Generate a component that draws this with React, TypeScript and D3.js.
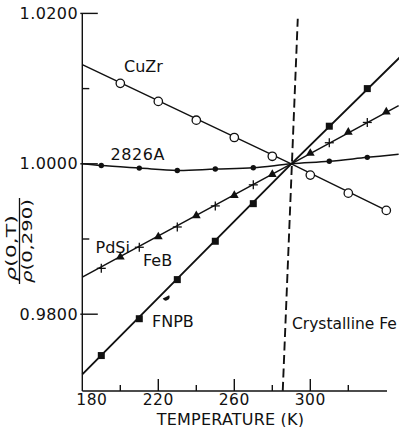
import React from "react";
import * as d3 from "d3";

// Temperature axis (K) and normalised resistivity axis
const xTicksMajor = [220, 260, 300];
const xTicksMinor = [200, 240, 280, 320];
const xTickLabels = ["180", "220", "260", "300"];
const yTicksMajor = [0.98, 1.0, 1.02];
const yTicksMinor = [0.99, 1.01];
const yTickLabels = ["0.9800", "1.0000", "1.0200"];

// CuZr (open circles)
const cuzrT = [200, 220, 240, 260, 280, 300, 320, 340];
const cuzrV = [1.0107, 1.0083, 1.0058, 1.0035, 1.001, 0.9985, 0.9961, 0.9938];
const cuzrLineT = [180, 290, 340];
const cuzrLineV = [1.0132, 1.0, 0.9938];

// 2826A (small filled dots)
const a2826T = [190, 210, 230, 250, 270, 310, 330];
const a2826V = [0.99977, 0.99943, 0.99911, 0.9993, 0.99947, 1.00033, 1.00086];
const a2826LineT = [180, 190, 210, 230, 250, 270, 290, 310, 330, 346.5];
const a2826LineV = [1.0, 0.99977, 0.99943, 0.99911, 0.9993, 0.99947, 1.0, 1.00033, 1.00086, 1.00126];

// PdSi (crosses) and FeB (triangles) share one line
const pdsiT = [190, 210, 230, 250, 270, 310, 330];
const pdsiV = [0.9861, 0.9889, 0.9916, 0.9944, 0.9972, 1.0028, 1.0055];
const febT = [200, 220, 240, 260, 280, 300, 320, 340];
const febV = [0.9876, 0.9903, 0.9931, 0.9958, 0.9986, 1.0014, 1.0042, 1.0069];
const pdsiLineT = [180, 290, 346.5];
const pdsiLineV = [0.98493, 1.0, 1.00774];

// FNPB (filled squares)
const fnpbT = [190, 210, 230, 250, 270, 310, 330];
const fnpbV = [0.9745, 0.9794, 0.9846, 0.9897, 0.9947, 1.005, 1.01];
const fnpbLineT = [180, 290, 347.3];
const fnpbLineV = [0.972, 1.0, 1.0142];
const fnpbStrayT = [224];
const fnpbStrayV = [0.9823];

// Crystalline Fe reference (dashed)
const feLineT = [285.5, 293.4];
const feLineV = [0.9698, 1.0193];

const FONT = "'DejaVu Sans', sans-serif";

const zip = (a: number[], b: number[]) => a.map((t, i) => [t, b[i]] as [number, number]);

export default function App() {
  const x = d3.scaleLinear().domain([180, 340]).range([82.3, 386.3]);
  const y = d3.scaleLinear().domain([0.98, 1.02]).range([314.2, 13.4]);
  const axisY = 391;
  const axisX = 82.3;

  const line = d3
    .line<[number, number]>()
    .x((d) => x(d[0]))
    .y((d) => y(d[1]));
  const curve = d3
    .line<[number, number]>()
    .x((d) => x(d[0]))
    .y((d) => y(d[1]))
    .curve(d3.curveCatmullRom.alpha(0.5));

  const tri = d3.symbol().type(d3.symbolTriangle).size(34)()!;
  const half = d3.arc()({ innerRadius: 0, outerRadius: 3.6, startAngle: Math.PI * 0.35, endAngle: Math.PI * 1.35 })!;

  return (
    <svg
      width={399}
      height={427}
      style={{ position: "absolute", left: 0, top: 0, background: "#fff" }}
      fontFamily={FONT}
    >
      <rect width={399} height={427} fill="#fff" />

      {/* axes */}
      <g stroke="#111" strokeWidth={1.4} fill="none">
        <line x1={axisX} y1={y(1.02)} x2={axisX} y2={axisY} />
        <line x1={axisX} y1={axisY} x2={387} y2={axisY} />
        {yTicksMajor.map((v) => (
          <line key={"ym" + v} x1={axisX - 2} x2={axisX + 15.5} y1={y(v)} y2={y(v)} />
        ))}
        {yTicksMinor.map((v) => (
          <line key={"yn" + v} x1={axisX} x2={axisX + 7} y1={y(v)} y2={y(v)} />
        ))}
        {xTicksMajor.map((t) => (
          <line key={"xm" + t} x1={x(t)} x2={x(t)} y1={axisY} y2={axisY - 12} />
        ))}
        {xTicksMinor.map((t) => (
          <line key={"xn" + t} x1={x(t)} x2={x(t)} y1={axisY} y2={axisY - 6} />
        ))}
      </g>

      {/* tick labels */}
      <g fontSize={16} fill="#111">
        {yTicksMajor.map((v, i) => (
          <text key={"yl" + v} x={78} y={y(v) + 5.6} textAnchor="end" letterSpacing={0.4}>
            {yTickLabels[i]}
          </text>
        ))}
        {[180, ...xTicksMajor].map((t, i) => (
          <text
            key={"xl" + t}
            x={i === 0 ? x(t) - 6 : x(t)}
            y={405}
            fontSize={15.5}
            textAnchor={i === 0 ? "start" : "middle"}
            letterSpacing={0.5}
          >
            {xTickLabels[i]}
          </text>
        ))}
        <text x={230.5} y={424.5} fontSize={16} textAnchor="middle" letterSpacing={0.2}>
          TEMPERATURE (K)
        </text>
      </g>

      {/* y-axis label: ρ(0,T) / ρ(0,290) */}
      <g fill="#111" fontSize={14}>
        <text
          transform="translate(15.5,248) rotate(-90)"
          textAnchor="middle"
          textLength={66}
          lengthAdjust="spacingAndGlyphs"
        >
          <tspan fontStyle="italic">ρ</tspan>(0,T)
        </text>
        <line x1={19.5} x2={19.5} y1={198} y2={284} stroke="#111" strokeWidth={1.3} />
        <text
          transform="translate(32,241) rotate(-90)"
          textAnchor="middle"
          textLength={84}
          lengthAdjust="spacingAndGlyphs"
        >
          <tspan fontStyle="italic">ρ</tspan>(0,290)
        </text>
      </g>

      {/* Crystalline Fe */}
      <path d={line(zip(feLineT, feLineV))!} stroke="#111" strokeWidth={1.9} strokeDasharray="9 4.5" fill="none" />

      {/* series lines */}
      <g fill="none" stroke="#111">
        <path d={line(zip(cuzrLineT, cuzrLineV))!} strokeWidth={1.4} />
        <path d={curve(zip(a2826LineT, a2826LineV))!} strokeWidth={1.5} />
        <path d={line(zip(pdsiLineT, pdsiLineV))!} strokeWidth={1.5} />
        <path d={line(zip(fnpbLineT, fnpbLineV))!} strokeWidth={1.9} />
      </g>

      {/* markers */}
      <g>
        {zip(cuzrT, cuzrV).map(([t, v]) => (
          <circle key={"c" + t} cx={x(t)} cy={y(v)} r={4.2} fill="#fff" stroke="#111" strokeWidth={1.3} />
        ))}
        {zip(a2826T, a2826V).map(([t, v]) => (
          <circle key={"a" + t} cx={x(t)} cy={y(v)} r={2.7} fill="#111" />
        ))}
        {zip(pdsiT, pdsiV).map(([t, v]) => (
          <g key={"p" + t} stroke="#111" strokeWidth={1.3}>
            <line x1={x(t) - 4.5} x2={x(t) + 4.5} y1={y(v)} y2={y(v)} />
            <line x1={x(t)} x2={x(t)} y1={y(v) - 4.5} y2={y(v) + 4.5} />
          </g>
        ))}
        {zip(febT, febV).map(([t, v]) => (
          <path key={"f" + t} d={tri} transform={`translate(${x(t)},${y(v)})`} fill="#111" />
        ))}
        {zip(fnpbT, fnpbV).map(([t, v]) => (
          <rect key={"s" + t} x={x(t) - 3.5} y={y(v) - 3.5} width={7} height={7} fill="#111" />
        ))}
        {zip(fnpbStrayT, fnpbStrayV).map(([t, v]) => (
          <path key={"h" + t} d={half} transform={`translate(${x(t)},${y(v)})`} fill="#111" />
        ))}
      </g>

      {/* series labels */}
      <g fontSize={16} fill="#111">
        <text x={124} y={71.5}>CuZr</text>
        <text x={110.5} y={160} letterSpacing={0.6}>2826A</text>
        <text x={95.5} y={252.5}>PdSi</text>
        <text x={143} y={266}>FeB</text>
        <text x={152} y={326.5}>FNPB</text>
        <text x={292} y={328.5} fontSize={15.5}>Crystalline Fe</text>
      </g>
    </svg>
  );
}
